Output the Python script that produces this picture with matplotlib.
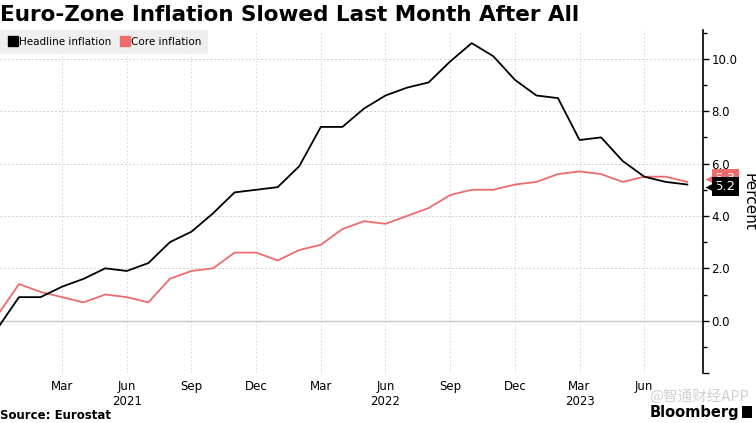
import matplotlib
matplotlib.use("Agg")
import matplotlib.pyplot as plt
import matplotlib.transforms as mtransforms
from matplotlib.lines import Line2D
from matplotlib.patches import Rectangle

# monthly data, Dec 2020 .. Aug 2023 (index 0 = Dec 2020)
headline = [-0.3, 0.9, 0.9, 1.3, 1.6, 2.0, 1.9, 2.2, 3.0, 3.4, 4.1, 4.9, 5.0,
            5.1, 5.9, 7.4, 7.4, 8.1, 8.6, 8.9, 9.1, 9.9, 10.6, 10.1, 9.2,
            8.6, 8.5, 6.9, 7.0, 6.1, 5.5, 5.3, 5.2]
core = [0.2, 1.4, 1.1, 0.9, 0.7, 1.0, 0.9, 0.7, 1.6, 1.9, 2.0, 2.6, 2.6,
        2.3, 2.7, 2.9, 3.5, 3.8, 3.7, 4.0, 4.3, 4.8, 5.0, 5.0, 5.2,
        5.3, 5.6, 5.7, 5.6, 5.3, 5.5, 5.5, 5.3]
months = list(range(len(headline)))

tick_pos = [3, 6, 9, 12, 15, 18, 21, 24, 27, 30]
tick_lab = ["Mar", "Jun\n2021", "Sep", "Dec", "Mar", "Jun\n2022", "Sep", "Dec",
            "Mar\n2023", "Jun"]

black = "#000000"
red = "#ee6b6b"

fig = plt.figure(figsize=(7.56, 4.23), dpi=100)
ax = fig.add_axes([0.0, 0.118, 0.930, 0.811])

ax.axhline(0, color="#c8c8c8", lw=1.0, zorder=1)
ax.plot(months, core, color=red, lw=1.3, zorder=3)
ax.plot(months, headline, color=black, lw=1.3, zorder=4)

ax.set_xlim(0.12, 32.73)
ax.set_ylim(-2, 11.1)

ax.set_xticks(tick_pos)
ax.set_xticklabels(tick_lab, fontsize=8.5)
ax.tick_params(axis="x", length=0, pad=5)

ax.yaxis.tick_right()
ax.yaxis.set_label_position("right")
ax.set_yticks([-2, 0, 2, 4, 6, 8, 10])
ax.set_yticklabels(["", "0.0", "2.0", "4.0", "6.0", "8.0", "10.0"], fontsize=8.5)
ax.set_yticks([-1, 1, 3, 5, 7, 9, 11], minor=True)
ax.tick_params(axis="y", which="major", length=4, width=1, pad=2)
ax.tick_params(axis="y", which="minor", length=3, width=1)
ax.set_ylabel("Percent", fontsize=11, rotation=270, labelpad=3, va="bottom")

for s in ["top", "left", "bottom"]:
    ax.spines[s].set_visible(False)
ax.spines["right"].set_linewidth(1.2)

for y in [2, 4, 6, 8, 10]:
    ax.axhline(y, color="#cfcfcf", lw=0.7, ls=(0, (2, 2)), zorder=0)
for x in tick_pos:
    ax.axvline(x, color="#dcdcdc", lw=0.7, ls=(0, (2, 2)), zorder=0)

# end labels: tag box + little pointer
trans = mtransforms.blended_transform_factory(ax.transAxes, ax.transData)
for val, col, yoff, z in [(core[-1], red, 0.12, 5), (headline[-1], black, -0.08, 6)]:
    ax.text(1.017, val + yoff, f"{val:.1f}", transform=trans, color="white",
            fontsize=9.5, va="center", ha="left", clip_on=False, zorder=z,
            bbox=dict(boxstyle="square,pad=0.22", fc=col, ec="none"))
    ax.plot([1.011], [val + yoff], marker="<", color=col, markersize=8,
            transform=trans, clip_on=False, zorder=z, mec="none")

handles = [Line2D([], [], marker="s", ls="none", color=black, markersize=7),
           Line2D([], [], marker="s", ls="none", color=red, markersize=7)]
leg = ax.legend(handles, ["Headline inflation", "Core inflation"], loc="upper left",
                bbox_to_anchor=(0, 1), borderaxespad=0, ncol=2, fontsize=7.5,
                frameon=True, fancybox=False, handletextpad=0.0, columnspacing=0.7,
                handlelength=1.2, borderpad=0.65)
leg.get_frame().set_facecolor("#efefef")
leg.get_frame().set_edgecolor("none")
leg.get_frame().set_alpha(1)

fig.text(0.0, 0.965, "Euro-Zone Inflation Slowed Last Month After All", fontsize=15.5,
         fontweight="bold", va="center", ha="left")
fig.text(0.0, 0.017, "Source: Eurostat", fontsize=8.5, fontweight="bold",
         va="center", ha="left")
fig.text(0.978, 0.025, "Bloomberg", fontsize=10.5, fontweight="bold",
         va="center", ha="right")
fig.patches.append(Rectangle((0.982, 0.012), 0.013, 0.028, transform=fig.transFigure,
                             fc="black", ec="none"))
fig.text(0.99, 0.062, "@智通财经APP", fontsize=10.5, color="#d0d0d0", va="center",
         ha="right", family=["Noto Sans CJK SC", "DejaVu Sans"], zorder=0)

fig.savefig("out.png", dpi=100)
